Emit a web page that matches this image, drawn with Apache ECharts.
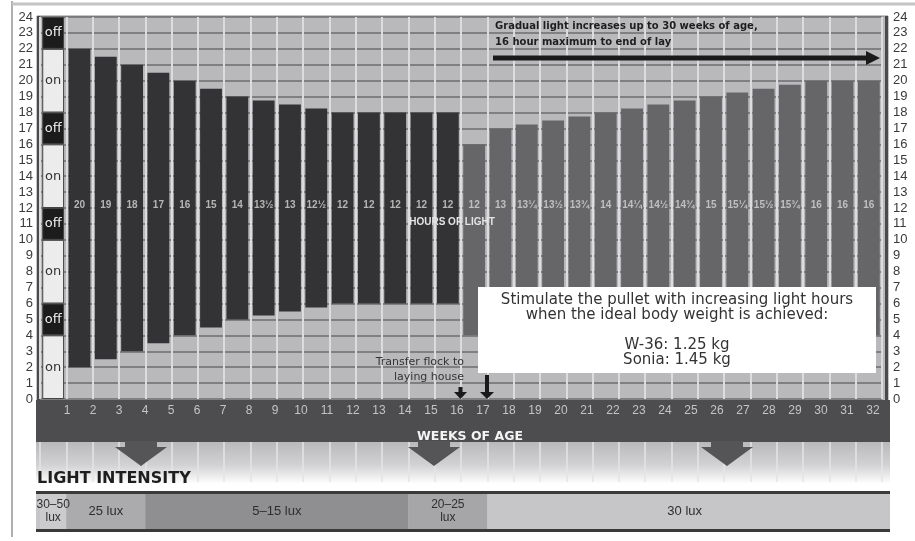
<!DOCTYPE html>
<html><head><meta charset="utf-8">
<script src="https://cdn.jsdelivr.net/npm/echarts@6/dist/echarts.min.js"></script>
<style>html,body{margin:0;padding:0;background:#fff}#c{width:915px;height:541px}</style>
</head><body><div id="c"></div>
<script>
// ---------- data ----------
const weekTicks = ['1','2','3','4','5','6','7','8','9','10','11','12','13','14','15','16','17','18','19','20','21','22','23','24','25','26','27','28','29','30','31','32'];
const lightsOnAt = [2,2.5,3,3.5,4,4.5,5,5.25,5.5,5.75,6,6,6,6,6,4,4,4,4,4,4,4,4,4,4,4,4,4,4,4,4];
const hoursOfLight = [20,19,18,17,16,15,14,13.5,13,12.5,12,12,12,12,12,12,13,13.25,13.5,13.75,14,14.25,14.5,14.75,15,15.25,15.5,15.75,16,16,16];
const hourLabels = ['20','19','18','17','16','15','14','13½','13','12½','12','12','12','12','12','12','13','13¼','13½','13¾','14','14¼','14½','14¾','15','15¼','15½','15¾','16','16','16'];
const rearingBars = 15; // bars before transfer to laying house
const cycleStates = ['on','off','on','off','on','off','on','off'];
const cycleHours = [4,2,4,2,4,2,4,2];
const luxLabels = ['30–50\nlux','25 lux','5–15 lux','20–25\nlux','30 lux'];
const luxSpans = [1,3,10,3,15];

// ---------- styling ----------
const DARK='#333335', GRAY='#666669', BG='#b9b9bc', HLINE='#6e6e71', VLINE='#dcdcde';
const OFF='#1c1c1c', ON='#ececec', BAND='#4d4d4f';
const luxColors=['#cbcbcd','#ababad','#8f8f92','#a6a6a8','#c6c6c8'];
const LABEL_HOUR = 12.2;
const barCats = ['0'].concat(hourLabels.map((_,i)=>String(i+1)));

const chart = echarts.init(document.getElementById('c'), null, {renderer:'canvas'});

const series = [];
series.push({type:'bar', xAxisIndex:0, yAxisIndex:0, stack:'day', barWidth:'83%', silent:true,
  itemStyle:{color:'transparent'}, data:[0].concat(lightsOnAt)});
series.push({type:'bar', xAxisIndex:0, yAxisIndex:0, stack:'day', barWidth:'83%', silent:true,
  data:['-'].concat(hoursOfLight.map((v,i)=>({value:v, itemStyle:{color: i<rearingBars?DARK:GRAY}})))});
cycleStates.forEach((s,k)=>{
  series.push({type:'bar', xAxisIndex:0, yAxisIndex:0, stack:'day', barWidth:'83%', silent:true,
    data:[{value:cycleHours[k], itemStyle:{color: s==='off'?OFF:ON, borderColor:'#444', borderWidth:1},
      label:{show:true, position:'inside', formatter:s, color: s==='off'?'#f0f0f0':'#333',
        fontFamily:'DejaVu Sans', fontSize:13}}]});
});
series.push({type:'scatter', xAxisIndex:0, yAxisIndex:0, silent:true, symbolSize:1, z:5,
  itemStyle:{color:'transparent'},
  data: hourLabels.map((t,i)=>[i+1, LABEL_HOUR]),
  label:{show:true, position:'inside', formatter:p=>hourLabels[p.dataIndex], color:'#d6d6d6',
    fontFamily:'Liberation Sans', fontWeight:'bold', fontSize:10}});
luxSpans.forEach((v,k)=>{
  series.push({type:'bar', xAxisIndex:3, yAxisIndex:4, stack:'lux', barWidth:'100%', silent:true,
    itemStyle:{color:luxColors[k]}, data:[v],
    label:{show:true, position:'inside', formatter:luxLabels[k], color:'#2e2e2e',
      fontFamily:'Liberation Sans', fontSize: luxLabels[k].includes('\n')?12:13, lineHeight:13}});
});

function arrowDown(c){
  return {type:'polygon', z:5, shape:{points:[[c-16,441],[c+16,441],[c+16,447],[c+26,447],[c,466],[c-26,447],[c-16,447]]},
    style:{fill:'#555557'}};
}

const graphic = [
  {type:'line', z:-20, shape:{x1:12,y1:1,x2:12,y2:537}, style:{stroke:'#b0b0b0', lineWidth:2}},
  {type:'line', z:-20, shape:{x1:12,y1:4,x2:915,y2:4}, style:{stroke:'#c4c4c4', lineWidth:3}},
  {type:'rect', z:-10, shape:{x:37,y:16,width:851,height:385}, style:{fill:BG, stroke:'#8a8a8c', lineWidth:1}},
  {type:'rect', z:-9, shape:{x:37,y:16,width:3,height:385}, style:{fill:'#4a4a4c'}},
  {type:'rect', z:-9, shape:{x:885,y:16,width:3,height:385}, style:{fill:'#4a4a4c'}},
  {type:'rect', z:-5, shape:{x:36,y:400,width:854,height:42}, style:{fill:BAND}},
  {type:'rect', z:-10, shape:{x:36,y:442,width:854,height:42},
    style:{fill:new echarts.graphic.LinearGradient(0,0,0,1,[{offset:0,color:BG},{offset:0.55,color:'#d2d2d4'},{offset:1,color:'#ffffff'}])}},
  arrowDown(141), arrowDown(434), arrowDown(727),
  {type:'text', z:5, x:37, y:479, style:{text:'LIGHT INTENSITY', font:'bold 16px "DejaVu Sans"', fill:'#1e1e1e', align:'left', verticalAlign:'middle'}},
  {type:'rect', z:-6, shape:{x:36,y:494,width:854,height:35}, style:{fill:luxColors[4]}},
  {type:'rect', z:5, shape:{x:36,y:491,width:854,height:3}, style:{fill:'#3a3a3a'}},
  {type:'rect', z:5, shape:{x:36,y:529,width:854,height:3}, style:{fill:'#3a3a3a'}},
  // top annotation
  {type:'text', z:10, x:495, y:26, style:{text:'Gradual light increases up to 30 weeks of age,', font:'bold 10px "DejaVu Sans"', fill:'#1e1e1e', align:'left', verticalAlign:'middle'}},
  {type:'text', z:10, x:495, y:42, style:{text:'16 hour maximum to end of lay', font:'bold 10px "DejaVu Sans"', fill:'#1e1e1e', align:'left', verticalAlign:'middle'}},
  {type:'rect', z:10, shape:{x:493,y:55.5,width:374,height:5}, style:{fill:'#1a1a1a'}},
  {type:'polygon', z:10, shape:{points:[[866,51],[880,58],[866,65]]}, style:{fill:'#1a1a1a'}},
  // hours of light
  {type:'text', z:10, x:452, y:222, style:{text:'HOURS OF LIGHT', font:'bold 10px "Liberation Sans"', fill:'#e4e4e4', align:'center', verticalAlign:'middle'}},
  // transfer
  {type:'text', z:10, x:464, y:362, style:{text:'Transfer flock to', font:'11px "DejaVu Sans"', fill:'#333', align:'right', verticalAlign:'middle'}},
  {type:'text', z:10, x:464, y:377, style:{text:'laying house', font:'11px "DejaVu Sans"', fill:'#333', align:'right', verticalAlign:'middle'}},
  {type:'rect', z:10, shape:{x:458.5,y:387,width:4,height:6}, style:{fill:'#1a1a1a'}},
  {type:'polygon', z:10, shape:{points:[[454,392],[467,392],[460.5,399]]}, style:{fill:'#1a1a1a'}},
  {type:'rect', z:10, shape:{x:485,y:375,width:4,height:18}, style:{fill:'#1a1a1a'}},
  {type:'polygon', z:10, shape:{points:[[480,392],[494,392],[487,399]]}, style:{fill:'#1a1a1a'}},
  // white box
  {type:'rect', z:20, shape:{x:478,y:287,width:398,height:86}, style:{fill:'#ffffff'}},
  {type:'text', z:21, x:677, y:300, style:{text:'Stimulate the pullet with increasing light hours', font:'15px "DejaVu Sans"', fill:'#333', align:'center', verticalAlign:'middle'}},
  {type:'text', z:21, x:677, y:315, style:{text:'when the ideal body weight is achieved:', font:'15px "DejaVu Sans"', fill:'#333', align:'center', verticalAlign:'middle'}},
  {type:'text', z:21, x:677, y:345, style:{text:'W-36: 1.25 kg', font:'15px "DejaVu Sans"', fill:'#333', align:'center', verticalAlign:'middle'}},
  {type:'text', z:21, x:677, y:360, style:{text:'Sonia: 1.45 kg', font:'15px "DejaVu Sans"', fill:'#333', align:'center', verticalAlign:'middle'}}
];

const yTickStyle = {color:'#3a3a3a', fontFamily:'Liberation Sans', fontSize:13};

chart.setOption({
  animation:false,
  backgroundColor:'#ffffff',
  grid:[
    {left:40, right:33, top:17, height:382},
    {left:67, right:42, top:399, height:1},
    {left:40, right:33, top:442, height:40},
    {left:40, right:33, top:494, height:35}
  ],
  xAxis:[
    {gridIndex:0, type:'category', data:barCats, boundaryGap:true,
      axisLine:{show:false}, axisTick:{show:false}, axisLabel:{show:false},
      splitLine:{show:true, interval:0, lineStyle:{color:VLINE, width:2}}},
    {gridIndex:1, type:'category', data:weekTicks, boundaryGap:false, position:'bottom',
      axisLine:{show:false}, axisTick:{show:false},
      axisLabel:{interval:0, color:'#c4c4c4', fontFamily:'Liberation Sans', fontSize:12, margin:5},
      name:'WEEKS OF AGE', nameLocation:'middle', nameGap:30,
      nameTextStyle:{color:'#f4f4f4', fontFamily:'DejaVu Sans', fontWeight:'bold', fontSize:12.5}},
    {gridIndex:2, type:'category', data:barCats, boundaryGap:true,
      axisLine:{show:false}, axisTick:{show:false}, axisLabel:{show:false},
      splitLine:{show:true, interval:0, lineStyle:{color:'rgba(228,228,230,0.75)', width:2}}},
    {gridIndex:3, type:'value', min:0, max:luxSpans.reduce((a,b)=>a+b,0), show:false}
  ],
  yAxis:[
    {gridIndex:0, type:'value', min:0, max:24, interval:1, position:'left',
      axisLine:{show:false}, axisTick:{show:false}, axisLabel:Object.assign({margin:7}, yTickStyle),
      splitLine:{show:true, lineStyle:{color:HLINE, width:1.5}}},
    {gridIndex:0, type:'value', min:0, max:24, interval:1, position:'right',
      axisLine:{show:false}, axisTick:{show:false}, axisLabel:Object.assign({margin:11}, yTickStyle),
      splitLine:{show:false}},
    {gridIndex:1, type:'value', show:false},
    {gridIndex:2, type:'value', show:false},
    {gridIndex:3, type:'category', data:['lux'], show:false}
  ],
  series: series,
  graphic: graphic
});
</script></body></html>
